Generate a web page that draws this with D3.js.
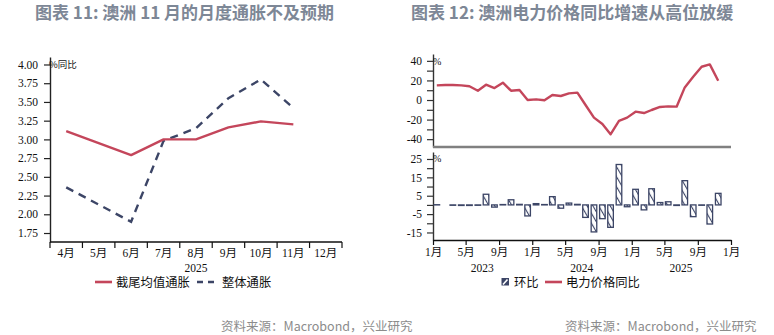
<!DOCTYPE html>
<html>
<head>
<meta charset="utf-8">
<script src="https://cdn.jsdelivr.net/npm/d3@7"></script>
<style>
  html, body { margin: 0; padding: 0; background: #fff; }
  svg { display: block; }
  .tick text { font-family: "Liberation Serif", "Noto Sans CJK SC", serif; }
</style>
</head>
<body>
<svg id="chart" width="774" height="335"></svg>
<script>
// ---- Figure 11: Australian monthly CPI, 2025 ----
const cpiMonths = ["4月", "5月", "6月", "7月", "8月", "9月", "10月", "11月", "12月"];
const trimmedMean = [3.11, 2.95, 2.79, 3.00, 3.00, 3.16, 3.24, 3.20];
const headlineCpi = [2.36, 2.13, 1.90, 2.98, 3.15, 3.55, 3.80, 3.42];
const cpiTicks = [1.75, 2.00, 2.25, 2.50, 2.75, 3.00, 3.25, 3.50, 3.75, 4.00];

// ---- Figure 12: Australian electricity prices ----
const elecMonths = [
  "2023-01", "2023-02", "2023-03", "2023-04", "2023-05", "2023-06",
  "2023-07", "2023-08", "2023-09", "2023-10", "2023-11", "2023-12",
  "2024-01", "2024-02", "2024-03", "2024-04", "2024-05", "2024-06",
  "2024-07", "2024-08", "2024-09", "2024-10", "2024-11", "2024-12",
  "2025-01", "2025-02", "2025-03", "2025-04", "2025-05", "2025-06",
  "2025-07", "2025-08", "2025-09", "2025-10", "2025-11"
];
const elecYoY = [
  15.0, 15.3, 15.3, 15.0, 14.0, 9.5,
  15.6, 12.2, 17.7, 9.5, 10.2, 0.0,
  0.7, -0.3, 5.1, 4.1, 6.8, 7.5,
  -5.1, -18.0, -24.5, -35.0, -21.4, -18.0,
  -11.9, -13.3, -10.2, -7.1, -6.5, -6.8,
  12.9, 23.8, 34.0, 36.4, 19.7
];
const elecMoM = [
  0.1, 0.0, -0.2, -0.3, -0.3, -0.2,
  5.8, -1.2, 0.2, 2.8, 0.3, -6.0,
  0.7, 0.2, 4.5, -1.8, 1.0, 0.3,
  -6.8, -14.7, -7.5, -12.2, 22.0, -1.0,
  8.5, -2.7, 8.8, 1.3, 1.7, -0.3,
  13.2, -6.4, -0.2, -10.4, 6.3
];
const yoyTicks = [-40, -30, -20, -10, 0, 10, 20, 30, 40];
const momTicks = [-15, -10, -5, 0, 5, 10, 15, 20, 25];
const yearLabels = ["2023", "2024", "2025"];

const RED = "#c4465b";
const NAVY = "#3c4566";
const TITLE = "#7d8796";
const SERIF = '"Liberation Serif", "Noto Sans CJK SC", serif';
const CJK = '"Noto Sans CJK SC", sans-serif';

const svg = d3.select("#chart");
svg.append("rect").attr("width", 774).attr("height", 335).attr("fill", "#fff");

// hatch used for the month-on-month bars
const defs = svg.append("defs");
const pat = defs.append("pattern")
  .attr("id", "hatch").attr("patternUnits", "userSpaceOnUse")
  .attr("width", 5).attr("height", 5)
  .attr("patternTransform", "rotate(-30)");
pat.append("rect").attr("width", 5).attr("height", 5).attr("fill", "#fff");
pat.append("line").attr("x1", 0).attr("y1", 0).attr("x2", 0).attr("y2", 5)
  .attr("stroke", NAVY).attr("stroke-width", 2.2);

// titles
svg.append("text").attr("x", 35).attr("y", 19)
  .attr("font-family", CJK).attr("font-size", 17).attr("font-weight", "bold")
  .attr("fill", TITLE).text("图表 11: 澳洲 11 月的月度通胀不及预期");
svg.append("text").attr("x", 411).attr("y", 19)
  .attr("font-family", CJK).attr("font-size", 17).attr("font-weight", "bold")
  .attr("fill", TITLE).text("图表 12: 澳洲电力价格同比增速从高位放缓");

// source notes
[221, 565].forEach(x => {
  svg.append("text").attr("x", x).attr("y", 331)
    .attr("font-family", CJK).attr("font-size", 12.5)
    .attr("fill", "#8c8c8c").text("资料来源：Macrobond，兴业研究");
});

function styleAxis(g, color) {
  g.select(".domain").attr("stroke", color).attr("stroke-width", 1.4);
  g.selectAll(".tick line").attr("stroke", color).attr("stroke-width", 1.2);
  g.selectAll(".tick text").attr("fill", "#111").attr("font-size", 11.5)
    .attr("font-family", SERIF);
}

// ================= Left chart =================
{
  const x = d3.scaleBand().domain(cpiMonths).range([50, 342]);
  const y = d3.scaleLinear().domain([1.63, 4.1]).range([242, 57]);

  const ya = svg.append("g").attr("transform", "translate(50,0)")
    .call(d3.axisLeft(y).tickValues(cpiTicks).tickFormat(d3.format(".2f"))
      .tickSize(6).tickPadding(6).tickSizeOuter(0));
  styleAxis(ya, "#222");

  // x axis: ticks at band edges, labels centred in bands
  const xa = svg.append("g").attr("transform", "translate(0,242)");
  xa.append("line").attr("x1", 50).attr("x2", 342)
    .attr("stroke", "#111").attr("stroke-width", 1.6);
  const edges = cpiMonths.map(m => x(m)).concat([x.range()[1]]);
  xa.selectAll("line.edge").data(edges).join("line").attr("class", "edge")
    .attr("x1", d => d).attr("x2", d => d).attr("y1", 0).attr("y2", 6)
    .attr("stroke", "#111").attr("stroke-width", 1.2);
  xa.selectAll("text").data(cpiMonths).join("text")
    .attr("x", d => x(d) + x.bandwidth() / 2).attr("y", 15)
    .attr("text-anchor", "middle").attr("font-family", SERIF)
    .attr("font-size", 11.5).attr("fill", "#111").text(d => d);
  svg.append("text").attr("x", 196).attr("y", 272).attr("text-anchor", "middle")
    .attr("font-family", SERIF).attr("font-size", 11.5).attr("fill", "#111").text("2025");

  svg.append("text").attr("x", 49).attr("y", 68)
    .attr("font-family", CJK).attr("font-size", 9.5).attr("fill", "#111").text("%同比");

  const line = d3.line()
    .x((d, i) => x(cpiMonths[i]) + x.bandwidth() / 2)
    .y(d => y(d));
  svg.append("path").datum(headlineCpi).attr("d", line)
    .attr("fill", "none").attr("stroke", NAVY).attr("stroke-width", 2.4)
    .attr("stroke-dasharray", "8,6");
  svg.append("path").datum(trimmedMean).attr("d", line)
    .attr("fill", "none").attr("stroke", RED).attr("stroke-width", 2.4)
    .attr("stroke-linejoin", "round");

  // legend
  const lg = svg.append("g");
  lg.append("line").attr("x1", 95).attr("x2", 112).attr("y1", 282).attr("y2", 282)
    .attr("stroke", RED).attr("stroke-width", 2.6);
  lg.append("text").attr("x", 116).attr("y", 286.5).attr("font-family", CJK)
    .attr("font-size", 12.3).attr("fill", "#111").text("截尾均值通胀");
  lg.append("line").attr("x1", 197).attr("x2", 214).attr("y1", 282).attr("y2", 282)
    .attr("stroke", NAVY).attr("stroke-width", 2.6).attr("stroke-dasharray", "6,5");
  lg.append("text").attr("x", 222).attr("y", 286.5).attr("font-family", CJK)
    .attr("font-size", 12.3).attr("fill", "#111").text("整体通胀");
}

// ================= Right chart =================
{
  const parse = d3.timeParse("%Y-%m-%d");
  const mid = m => parse(m + "-15");
  const x = d3.scaleTime()
    .domain([parse("2023-01-01"), parse("2026-01-01")]).range([433, 731]);
  const yTop = d3.scaleLinear().domain([-48, 47]).range([147, 54]);
  const yBot = d3.scaleLinear().domain([-19.1, 28.8]).range([240, 152]);

  // top panel: YoY line
  const ta = svg.append("g").attr("transform", "translate(433,0)")
    .call(d3.axisLeft(yTop).tickValues(yoyTicks)
      .tickFormat(d => d % 20 === 0 ? d : "")
      .tickSize(6).tickPadding(5).tickSizeOuter(0));
  styleAxis(ta, "#333");
  svg.append("line").attr("x1", 433).attr("x2", 731).attr("y1", 147).attr("y2", 147)
    .attr("stroke", "#808080").attr("stroke-width", 2.6);
  svg.append("text").attr("x", 433).attr("y", 65).attr("font-family", SERIF)
    .attr("font-size", 10).attr("fill", "#111").text("%");

  svg.append("path").datum(elecYoY)
    .attr("d", d3.line().x((d, i) => x(mid(elecMonths[i]))).y(d => yTop(d)))
    .attr("fill", "none").attr("stroke", RED).attr("stroke-width", 2.4)
    .attr("stroke-linejoin", "round");

  // bottom panel: MoM bars
  const ba = svg.append("g").attr("transform", "translate(433,0)")
    .call(d3.axisLeft(yBot).tickValues(momTicks)
      .tickFormat(d => Math.abs(d) % 10 === 5 ? d : "")
      .tickSize(6).tickPadding(5).tickSizeOuter(0));
  styleAxis(ba, "#333");
  svg.append("text").attr("x", 433).attr("y", 162).attr("font-family", SERIF)
    .attr("font-size", 10).attr("fill", "#111").text("%");

  const bw = 5.6;
  svg.append("g").selectAll("rect").data(elecMoM).join("rect")
    .attr("x", (d, i) => x(mid(elecMonths[i])) - bw / 2)
    .attr("y", d => yBot(Math.max(0, d)))
    .attr("width", bw)
    .attr("height", d => Math.abs(yBot(d) - yBot(0)))
    .attr("fill", "url(#hatch)").attr("stroke", NAVY).attr("stroke-width", 1.3);

  const xa = svg.append("g").attr("transform", "translate(0,240)")
    .call(d3.axisBottom(x)
      .tickValues(d3.timeMonth.every(4).range(parse("2023-01-01"), parse("2026-01-02")))
      .tickFormat(d => (d.getMonth() + 1) + "月")
      .tickSize(5).tickPadding(3).tickSizeOuter(0));
  styleAxis(xa, "#111");
  xa.select(".domain").attr("stroke-width", 1.6);

  svg.append("g").selectAll("text").data(yearLabels).join("text")
    .attr("x", d => x(parse(d + "-07-01"))).attr("y", 272)
    .attr("text-anchor", "middle").attr("font-family", SERIF)
    .attr("font-size", 11.5).attr("fill", "#111").text(d => d);

  // legend
  const lg = svg.append("g");
  lg.append("rect").attr("x", 501.5).attr("y", 278).attr("width", 7.5).attr("height", 7.5)
    .attr("fill", NAVY);
  lg.append("line").attr("x1", 503).attr("y1", 284.5).attr("x2", 507.5).attr("y2", 279.5)
    .attr("stroke", "#fff").attr("stroke-width", 1.6);
  lg.append("text").attr("x", 514).attr("y", 286.5).attr("font-family", CJK)
    .attr("font-size", 12.3).attr("fill", "#111").text("环比");
  lg.append("line").attr("x1", 545).attr("x2", 562).attr("y1", 282).attr("y2", 282)
    .attr("stroke", RED).attr("stroke-width", 2.6);
  lg.append("text").attr("x", 566).attr("y", 286.5).attr("font-family", CJK)
    .attr("font-size", 12.3).attr("fill", "#111").text("电力价格同比");
}
</script>
</body>
</html>
